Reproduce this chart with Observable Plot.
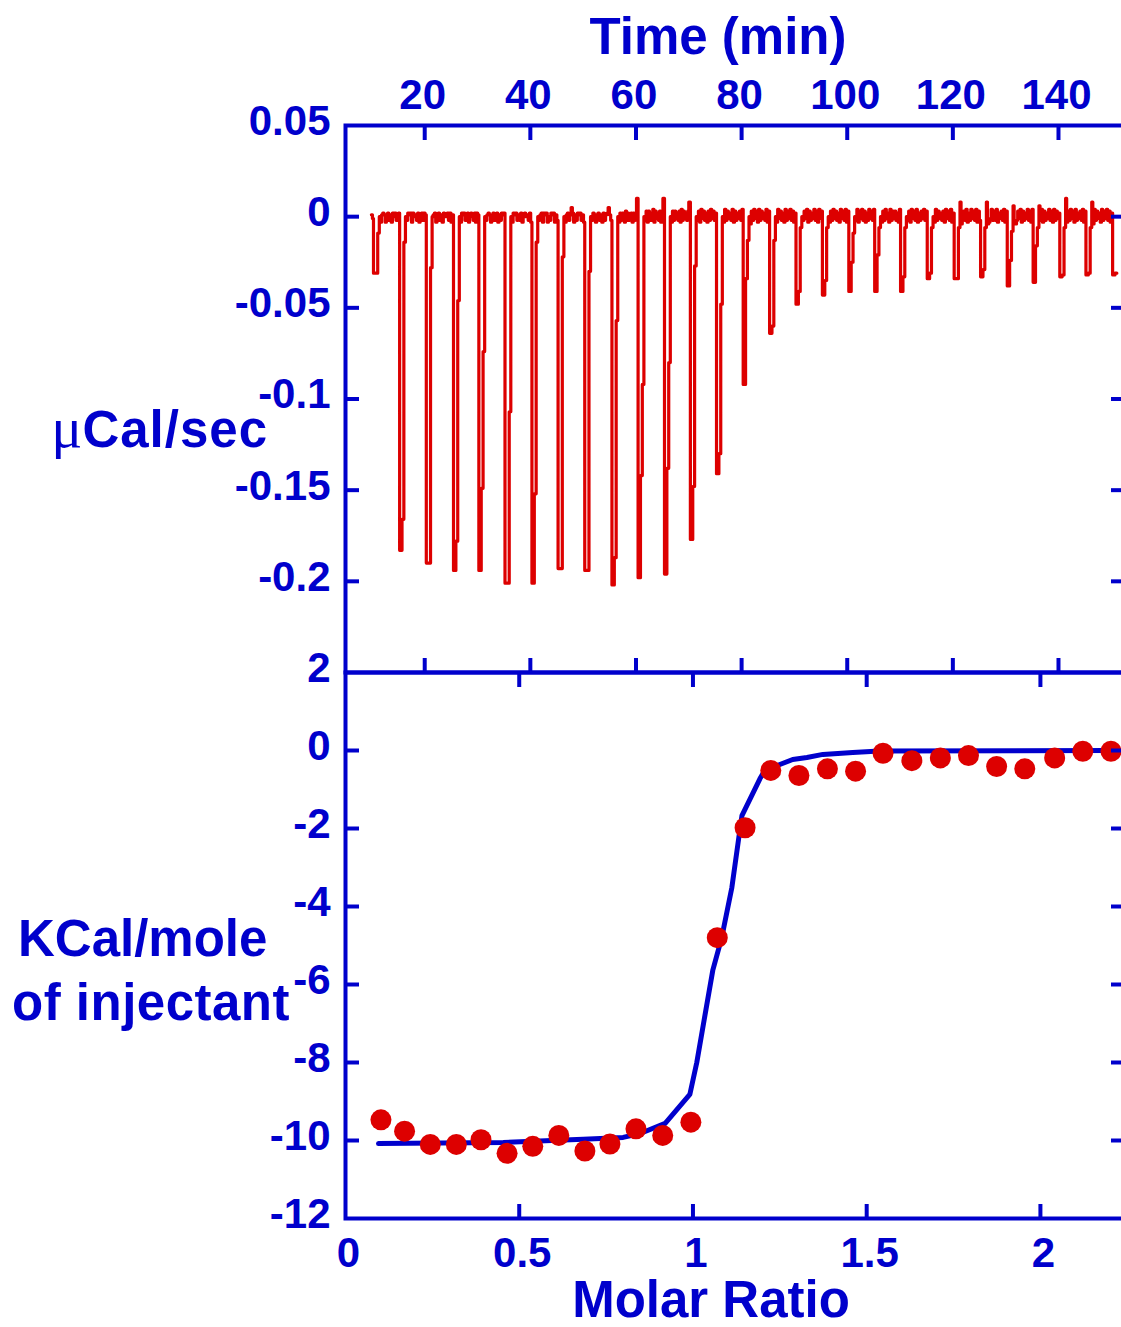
<!DOCTYPE html>
<html>
<head>
<meta charset="utf-8">
<script src="https://cdn.jsdelivr.net/npm/d3@7"></script>
<script src="https://cdn.jsdelivr.net/npm/@observablehq/plot@0.6"></script>
<style>
  html, body { margin: 0; padding: 0; background: #fff; overflow: hidden; }
  #page {
    position: relative; width: 1121px; height: 1327px; overflow: hidden;
    font-family: "Liberation Sans", Arial, sans-serif; font-weight: bold; color: #0000cc;
  }
  .title { position: absolute; font-size: 51px; line-height: 40px; white-space: nowrap; }
  .mu { font-family: "Liberation Serif", "DejaVu Serif", serif; font-weight: normal; font-size: 58px; letter-spacing: 0; }
  #thermogram, #isotherm { position: absolute; left: 0; }
</style>
</head>
<body>
<div id="page">
  <div id="thermogram"></div>
  <div id="isotherm"></div>
  <div class="title" style="left:418px; width:600px; text-align:center; top:17px;">Time (min)</div>
  <div class="title" style="left:0; width:268px; text-align:right; top:408px; letter-spacing:1px;"><span class="mu">μ</span>Cal/sec</div>
  <div class="title" style="left:18px; top:919px;">KCal/mole</div>
  <div class="title" style="left:12px; top:983px; letter-spacing:0.5px;">of injectant</div>
  <div class="title" style="left:411px; width:600px; text-align:center; top:1280px;">Molar Ratio</div>
</div>
<script>
const blue = "#0000cc";
const red = "#dd0000";

// ---- Raw thermogram (µcal/s) ----
// start of the recorded trace (min) and its first levels
const leadTime = [9.9, 10.1];
const leadLevel = [0.001, -0.001];

// injection times (min) and the levels each peak passes through
const injectionTime = [10.3, 15.25, 20.3, 25.45, 30.25, 35.2, 40.3, 45.25, 50.3, 55.45,
  60.4, 65.4, 70.3, 75.25, 80.3, 85.3, 90.3, 95.3, 100.3, 105.2,
  110.1, 115.15, 120.25, 125.25, 130.3, 135.2, 140.25, 145.2, 150.25];
const peakMin = [-0.031, -0.183, -0.190, -0.194, -0.194, -0.201, -0.201, -0.193, -0.194, -0.202,
  -0.198, -0.196, -0.177, -0.141, -0.092, -0.064, -0.048, -0.043, -0.041, -0.041,
  -0.041, -0.034, -0.034, -0.033, -0.038, -0.036, -0.033, -0.032, -0.032];
const peakLower = [-0.031, -0.166, -0.190, -0.178, -0.149, -0.201, -0.152, -0.193, -0.194, -0.187,
  -0.142, -0.138, -0.148, -0.130, -0.034, -0.060, -0.041, -0.035, -0.025, -0.021,
  -0.033, -0.031, -0.034, -0.029, -0.024, -0.016, -0.032, -0.031, -0.031];
const peakUpper = [-0.009, -0.014, -0.028, -0.046, -0.074, -0.107, -0.014, -0.022, -0.030, -0.057,
  -0.092, -0.080, -0.027, -0.048, -0.013, -0.013, -0.006, -0.006, -0.009, -0.006,
  -0.006, -0.006, -0.006, -0.006, -0.008, -0.006, -0.006, -0.006, -0.006];
// short upward excursions just before / just after an injection (x0.001 µcal/s)
const peakPre = [0, 0, 0, 0, 0, 0, 0, 0, 0, 0,
  10, 10, 8, 0, 0, 0, 0, 0, 0, 0,
  0, 0, 0, 0, 0, 0, 0, 0, 0];
const peakKick = [0, 0, 0, 0, 0, 0, 0, 0, 0, 0,
  0, 0, 0, 0, 0, 0, 0, 0, 0, 0,
  0, 0, 8, 8, 6, 6, 10, 8, 0];
// baseline readings between injections, one digit per reading:
// level = (digit - 4) x 0.001 µcal/s
const baselineNoise = [
  "1565156251646256", "2656164526156265", "5615625164562615", "1656256146526165",
  "2565146256152656", "1656252615645261", "2561656142656152", "1562596152656251",
  "2651562516256952", "1626517262561626", "2717262817362717", "1727362718273627",
  "2718372617283726", "1827362817263728", "0728371827362817", "1837261827382716",
  "2738172638271837", "1728372618372817", "2817382716283728", "1728361827372618",
  "2718372816273827", "1827362718372816", "0372816283728172", "0138272816372817",
  "1027381726382718", "2817263827182736", "1728371826372817", "0827361827382716"
];

// ---- Integrated heats ----
const molarRatio = [0.102, 0.170, 0.244, 0.319, 0.390, 0.465, 0.539, 0.614, 0.689, 0.761,
  0.836, 0.913, 0.994, 1.070, 1.150, 1.224, 1.305, 1.387, 1.468, 1.547,
  1.630, 1.712, 1.793, 1.874, 1.955, 2.041, 2.122, 2.203];
const heat = [-9.47, -9.76, -10.10, -10.10, -9.98, -10.33, -10.15, -9.87, -10.27, -10.09,
  -9.70, -9.87, -9.53, -4.80, -1.98, -0.51, -0.64, -0.47, -0.53, -0.07,
  -0.26, -0.19, -0.13, -0.41, -0.47, -0.19, -0.02, -0.02];
// fitted binding curve
const fitRatio = [0.095, 0.454, 0.684, 0.799, 0.848, 0.920, 0.991, 1.011, 1.032, 1.057,
  1.083, 1.112, 1.132, 1.141, 1.193, 1.207, 1.250, 1.287, 1.328, 1.374,
  1.460, 1.537, 2.203];
const fitHeat = [-10.08, -10.05, -9.97, -9.92, -9.82, -9.56, -8.82, -8.00, -6.92, -5.64,
  -4.79, -3.51, -2.23, -1.67, -0.72, -0.51, -0.36, -0.23, -0.18, -0.10,
  -0.05, -0.01, 0.0];

// ---- Ticks ----
const timeTicks = [20, 40, 60, 80, 100, 120, 140];
const powerTicks = [0.05, 0, -0.05, -0.1, -0.15, -0.2];
const powerInnerTicks = [0, -0.05, -0.1, -0.15, -0.2];
const ratioTicks = [0, 0.5, 1, 1.5, 2];
const ratioInnerTicks = [0.5, 1, 1.5, 2];
const heatTicks = [2, 0, -2, -4, -6, -8, -10, -12];
const heatInnerTicks = [0, -2, -4, -6, -8, -10];

// Assemble the step trace: baseline readings, then each injection peak
const trace = [];
leadTime.forEach((t, i) => trace.push({t, v: leadLevel[i]}));
injectionTime.forEach((t0, i) => {
  if (peakPre[i]) trace.push({t: t0 - 0.3, v: peakPre[i] / 1000});
  trace.push({t: t0, v: peakMin[i]});
  trace.push({t: t0 + 0.45, v: peakLower[i]});
  if (i === injectionTime.length - 1) {
    trace.push({t: t0 + 0.8, v: peakLower[i]});
    return;
  }
  trace.push({t: t0 + 0.8, v: peakUpper[i]});
  trace.push({t: t0 + 1.1, v: peakKick[i] / 1000});
  const seg = baselineNoise[i];
  const start = t0 + 1.3;
  const end = injectionTime[i + 1] - (peakPre[i + 1] ? 0.3 : 0);
  const step = (end - start) / seg.length;
  [...seg].forEach((c, j) => trace.push({t: start + j * step, v: (+c - 4) / 1000}));
});

const isotherm = molarRatio.map((r, i) => ({r, q: heat[i]}));
const fit = fitRatio.map((r, i) => ({r, q: fitHeat[i]}));

const fmt = d => (d === 0 ? "0" : String(d));
const font = {fontSize: 42, fontWeight: "bold", fontFamily: "Liberation Sans, Arial, sans-serif"};
const svgStyle = "background:transparent; max-width:none; overflow:visible;";
const axisLine = {stroke: blue, strokeWidth: 4, fill: "none", label: null};
const axisText = {fill: blue, stroke: "none", tickSize: 0, label: null, ...font};

// Upper panel: raw power vs time
const thermogramPlot = Plot.plot({
  width: 1140, height: 680,
  marginTop: 125, marginBottom: 8, marginLeft: 345, marginRight: 16,
  style: svgStyle,
  x: {domain: [5, 152.5], label: null},
  y: {domain: [-0.25, 0.05], label: null},
  marks: [
    Plot.line(trace, {x: "t", y: "v", curve: "step-after", stroke: red, strokeWidth: 3.2}),
    Plot.frame({stroke: blue, strokeWidth: 4}),
    Plot.axisX(timeTicks, {anchor: "top", tickSize: 14, dy: 14, ...axisLine}),
    Plot.axisX(timeTicks, {anchor: "bottom", tickSize: 14, dy: -14, ...axisLine}),
    Plot.axisY(powerInnerTicks, {anchor: "left", tickSize: 14, dx: 14, ...axisLine}),
    Plot.axisY(powerInnerTicks, {anchor: "right", tickSize: 14, dx: -14, ...axisLine}),
    Plot.axisX(timeTicks, {anchor: "top", tickPadding: 17, dx: -2, tickFormat: d => String(d), ...axisText}),
    Plot.axisY(powerTicks, {anchor: "left", tickPadding: 15, dy: -4, tickFormat: fmt, ...axisText})
  ]
});

// Lower panel: integrated heat vs molar ratio
const isothermPlot = Plot.plot({
  width: 1140, height: 665,
  marginTop: 10, marginBottom: 109, marginLeft: 345, marginRight: 16,
  style: svgStyle,
  x: {domain: [0, 2.242], label: null},
  y: {domain: [-12, 2], label: null},
  marks: [
    Plot.line(fit, {x: "r", y: "q", stroke: blue, strokeWidth: 5}),
    Plot.dot(isotherm, {x: "r", y: "q", r: 10.5, fill: red, stroke: "none"}),
    Plot.frame({stroke: blue, strokeWidth: 4}),
    Plot.axisX(ratioInnerTicks, {anchor: "top", tickSize: 14, dy: 14, ...axisLine}),
    Plot.axisX(ratioInnerTicks, {anchor: "bottom", tickSize: 14, dy: -14, ...axisLine}),
    Plot.axisY(heatInnerTicks, {anchor: "left", tickSize: 14, dx: 14, ...axisLine}),
    Plot.axisY(heatInnerTicks, {anchor: "right", tickSize: 14, dx: -14, ...axisLine}),
    Plot.axisX(ratioTicks, {anchor: "bottom", tickPadding: 19, dx: 3, tickFormat: fmt, ...axisText}),
    Plot.axisY(heatTicks, {anchor: "left", tickPadding: 15, dy: -4, tickFormat: fmt, ...axisText})
  ]
});

const thermogramHost = document.getElementById("thermogram");
thermogramHost.style.top = "0px";
thermogramHost.appendChild(thermogramPlot);
const isothermHost = document.getElementById("isotherm");
isothermHost.style.top = "662px";
isothermHost.appendChild(isothermPlot);
</script>
</body>
</html>
